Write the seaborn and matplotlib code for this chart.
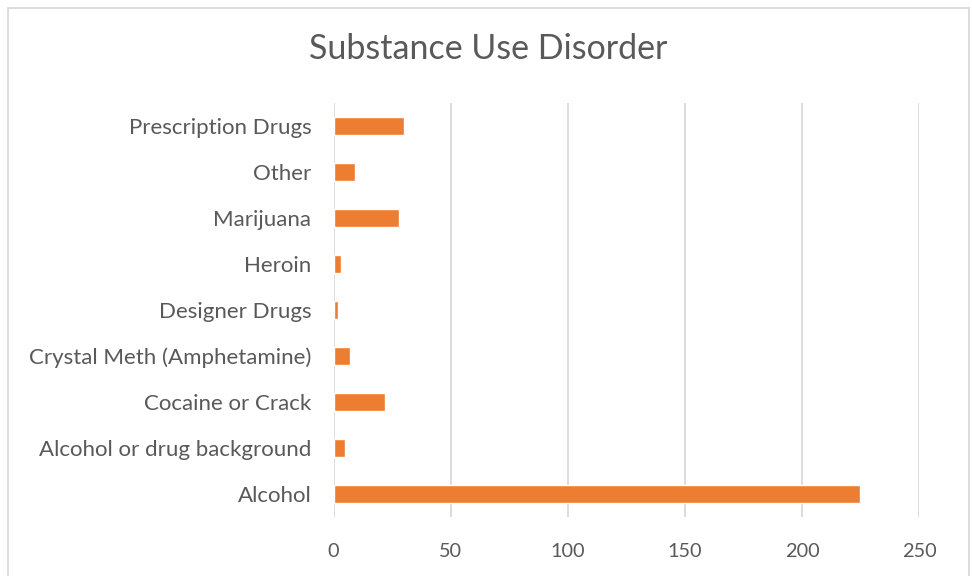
import matplotlib
matplotlib.use("Agg")
import matplotlib.pyplot as plt
import seaborn as sns
import pandas as pd
from matplotlib.patches import Rectangle

categories = [
    "Prescription Drugs",
    "Other",
    "Marijuana",
    "Heroin",
    "Designer Drugs",
    "Crystal Meth (Amphetamine)",
    "Cocaine or Crack",
    "Alcohol or drug background",
    "Alcohol",
]
counts = [30, 9, 28, 3, 2, 7, 22, 5, 225]
x_ticks = [0, 50, 100, 150, 200, 250]

df = pd.DataFrame({"substance": categories, "count": counts})

sns.set_theme(style="white")
plt.rcParams["font.family"] = ["Lato", "DejaVu Sans"]

text_color = "#595959"
grid_color = "#D9D9D9"
bar_color = "#ED7D31"

fig = plt.figure(figsize=(9.72, 5.76), dpi=100)
ax = fig.add_axes([333.5 / 972, 1 - 517 / 576, (919 - 333.5) / 972, (517 - 103) / 576])

sns.barplot(data=df, y="substance", x="count", order=categories,
            color=bar_color, saturation=1, width=0.39, orient="h", ax=ax)

ax.set_xlim(0, 250)
ax.set_xticks(x_ticks)
ax.set_xticklabels([str(t) for t in x_ticks])
ax.xaxis.grid(True, color=grid_color, linewidth=1.3)
ax.set_axisbelow(True)
for s in ax.spines.values():
    s.set_visible(False)
ax.tick_params(axis="both", length=0, colors=text_color)
ax.tick_params(axis="x", labelsize=14.3, pad=19)
ax.tick_params(axis="y", labelsize=16, pad=16)
ax.set_xlabel("")
ax.set_ylabel("")

fig.text(488 / 972, 1 - 49 / 576, "Substance Use Disorder", ha="center", va="center",
         fontsize=24.5, color=text_color)

fig.patches.append(Rectangle((8 / 972, -0.05), (969 - 8) / 972, 1.05 - 8 / 576,
                             transform=fig.transFigure, fill=False,
                             edgecolor=grid_color, linewidth=1.3))

fig.savefig("out.png", dpi=100)
